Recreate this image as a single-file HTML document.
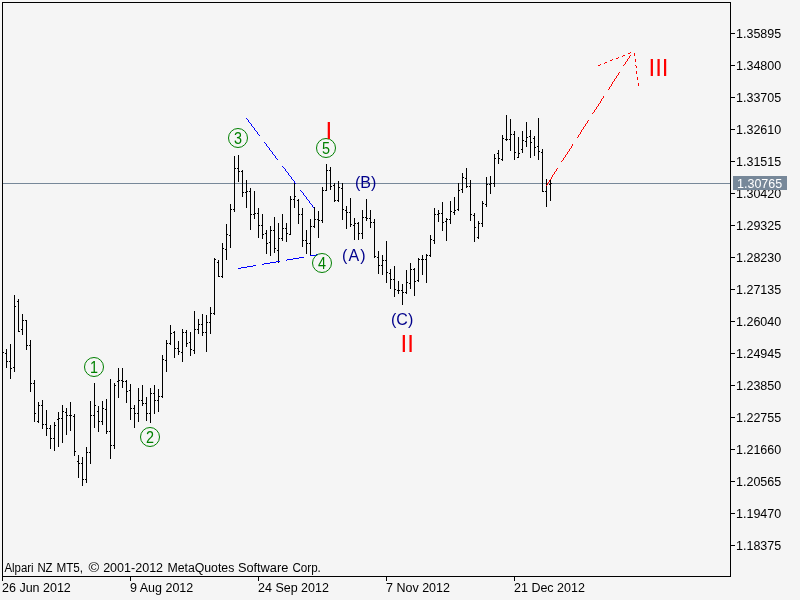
<!DOCTYPE html>
<html><head><meta charset="utf-8"><title>Chart</title>
<style>
html,body{margin:0;padding:0;background:#f5f5f5;}
body{width:800px;height:600px;overflow:hidden;}
svg{display:block;font-family:"Liberation Sans",sans-serif;}
.ax{font-size:12.5px;fill:#000;}
.w{font-size:16px;fill:#00008b;}
.r{font-size:24px;fill:#ff0000;}
.g{font-size:16px;fill:#008000;text-anchor:middle;}
</style></head><body>
<svg width="800" height="600" viewBox="0 0 800 600">
<rect x="0" y="0" width="800" height="600" fill="#f5f5f5"/>

<g shape-rendering="crispEdges" fill="#000">
<rect x="2" y="2" width="729" height="1"/>
<rect x="2" y="2" width="1" height="579"/>
<rect x="730" y="2" width="1" height="575"/>
<rect x="2" y="576" width="729" height="1"/>
<rect x="731" y="33" width="4" height="1"/>
<rect x="731" y="65" width="4" height="1"/>
<rect x="731" y="97" width="4" height="1"/>
<rect x="731" y="129" width="4" height="1"/>
<rect x="731" y="161" width="4" height="1"/>
<rect x="731" y="193" width="4" height="1"/>
<rect x="731" y="225" width="4" height="1"/>
<rect x="731" y="257" width="4" height="1"/>
<rect x="731" y="289" width="4" height="1"/>
<rect x="731" y="321" width="4" height="1"/>
<rect x="731" y="353" width="4" height="1"/>
<rect x="731" y="385" width="4" height="1"/>
<rect x="731" y="417" width="4" height="1"/>
<rect x="731" y="449" width="4" height="1"/>
<rect x="731" y="481" width="4" height="1"/>
<rect x="731" y="513" width="4" height="1"/>
<rect x="731" y="545" width="4" height="1"/>
<rect x="130" y="577" width="1" height="4"/>
<rect x="258" y="577" width="1" height="4"/>
<rect x="386" y="577" width="1" height="4"/>
<rect x="514" y="577" width="1" height="4"/>
</g>
<rect x="3" y="183" width="727" height="1" fill="#778899" shape-rendering="crispEdges"/>
<path d="M6 349h1v19h-1zM5 353h1v1h-1zM7 361h1v1h-1zM10 344h1v35h-1zM9 361h1v1h-1zM11 368h1v1h-1zM14 295h1v77h-1zM13 367h1v1h-1zM15 306h1v1h-1zM18 299h1v33h-1zM17 301h1v1h-1zM19 331h1v1h-1zM22 314h1v21h-1zM21 329h1v1h-1zM23 320h1v1h-1zM26 320h1v30h-1zM25 320h1v1h-1zM27 345h1v1h-1zM30 340h1v52h-1zM29 345h1v1h-1zM31 383h1v1h-1zM34 380h1v42h-1zM33 383h1v1h-1zM35 413h1v1h-1zM38 402h1v21h-1zM37 421h1v1h-1zM39 405h1v1h-1zM42 400h1v29h-1zM41 405h1v1h-1zM43 424h1v1h-1zM46 410h1v26h-1zM45 424h1v1h-1zM47 428h1v1h-1zM50 425h1v24h-1zM49 428h1v1h-1zM51 438h1v1h-1zM54 422h1v29h-1zM53 438h1v1h-1zM55 425h1v1h-1zM58 412h1v35h-1zM57 419h1v1h-1zM59 418h1v1h-1zM62 405h1v38h-1zM61 418h1v1h-1zM63 411h1v1h-1zM66 408h1v27h-1zM65 412h1v1h-1zM67 415h1v1h-1zM70 402h1v29h-1zM69 415h1v1h-1zM71 415h1v1h-1zM74 414h1v42h-1zM73 416h1v1h-1zM75 451h1v1h-1zM78 455h1v23h-1zM77 461h1v1h-1zM79 463h1v1h-1zM82 457h1v29h-1zM81 463h1v1h-1zM83 479h1v1h-1zM86 447h1v36h-1zM85 479h1v1h-1zM87 452h1v1h-1zM90 401h1v63h-1zM89 452h1v1h-1zM91 415h1v1h-1zM94 383h1v45h-1zM93 415h1v1h-1zM95 405h1v1h-1zM98 406h1v26h-1zM97 411h1v1h-1zM99 421h1v1h-1zM102 401h1v24h-1zM101 421h1v1h-1zM103 408h1v1h-1zM106 399h1v35h-1zM105 409h1v1h-1zM107 431h1v1h-1zM110 379h1v80h-1zM109 431h1v1h-1zM111 445h1v1h-1zM114 383h1v66h-1zM113 445h1v1h-1zM115 385h1v1h-1zM118 368h1v30h-1zM117 381h1v1h-1zM119 380h1v1h-1zM122 368h1v20h-1zM121 380h1v1h-1zM123 381h1v1h-1zM126 380h1v23h-1zM125 381h1v1h-1zM127 391h1v1h-1zM130 384h1v36h-1zM129 390h1v1h-1zM131 408h1v1h-1zM134 405h1v23h-1zM133 408h1v1h-1zM135 413h1v1h-1zM138 388h1v34h-1zM137 413h1v1h-1zM139 400h1v1h-1zM142 385h1v21h-1zM141 400h1v1h-1zM143 403h1v1h-1zM146 397h1v24h-1zM145 403h1v1h-1zM147 413h1v1h-1zM150 388h1v35h-1zM149 413h1v1h-1zM151 393h1v1h-1zM154 385h1v29h-1zM153 393h1v1h-1zM155 400h1v1h-1zM158 389h1v23h-1zM157 400h1v1h-1zM159 396h1v1h-1zM162 355h1v43h-1zM161 396h1v1h-1zM163 359h1v1h-1zM166 340h1v32h-1zM165 360h1v1h-1zM167 343h1v1h-1zM170 325h1v20h-1zM169 343h1v1h-1zM171 333h1v1h-1zM174 331h1v27h-1zM173 332h1v1h-1zM175 348h1v1h-1zM178 341h1v14h-1zM177 348h1v1h-1zM179 351h1v1h-1zM182 329h1v33h-1zM181 352h1v1h-1zM183 332h1v1h-1zM186 330h1v17h-1zM185 332h1v1h-1zM187 343h1v1h-1zM190 332h1v24h-1zM189 342h1v1h-1zM191 349h1v1h-1zM194 311h1v43h-1zM193 350h1v1h-1zM195 329h1v1h-1zM198 319h1v15h-1zM197 329h1v1h-1zM199 324h1v1h-1zM202 314h1v22h-1zM201 324h1v1h-1zM203 332h1v1h-1zM206 315h1v37h-1zM205 332h1v1h-1zM207 322h1v1h-1zM210 307h1v27h-1zM209 322h1v1h-1zM211 313h1v1h-1zM214 258h1v57h-1zM213 313h1v1h-1zM215 259h1v1h-1zM218 260h1v17h-1zM217 262h1v1h-1zM219 276h1v1h-1zM222 243h1v35h-1zM221 276h1v1h-1zM223 248h1v1h-1zM226 224h1v36h-1zM225 249h1v1h-1zM227 234h1v1h-1zM230 204h1v44h-1zM229 235h1v1h-1zM231 209h1v1h-1zM234 156h1v56h-1zM233 209h1v1h-1zM235 168h1v1h-1zM238 155h1v27h-1zM237 168h1v1h-1zM239 171h1v1h-1zM242 170h1v27h-1zM241 171h1v1h-1zM243 192h1v1h-1zM246 180h1v28h-1zM245 192h1v1h-1zM247 191h1v1h-1zM250 188h1v42h-1zM249 191h1v1h-1zM251 214h1v1h-1zM254 191h1v28h-1zM253 214h1v1h-1zM255 213h1v1h-1zM258 208h1v30h-1zM257 213h1v1h-1zM259 225h1v1h-1zM262 214h1v25h-1zM261 225h1v1h-1zM263 234h1v1h-1zM266 230h1v24h-1zM265 233h1v1h-1zM267 243h1v1h-1zM270 226h1v30h-1zM269 242h1v1h-1zM271 230h1v1h-1zM274 217h1v36h-1zM273 230h1v1h-1zM275 248h1v1h-1zM278 223h1v40h-1zM277 250h1v1h-1zM279 238h1v1h-1zM282 214h1v27h-1zM281 238h1v1h-1zM283 228h1v1h-1zM286 223h1v19h-1zM285 228h1v1h-1zM287 233h1v1h-1zM290 196h1v39h-1zM289 234h1v1h-1zM291 199h1v1h-1zM294 183h1v25h-1zM293 199h1v1h-1zM295 196h1v1h-1zM298 199h1v25h-1zM297 200h1v1h-1zM299 214h1v1h-1zM302 208h1v39h-1zM301 214h1v1h-1zM303 240h1v1h-1zM306 230h1v24h-1zM305 240h1v1h-1zM307 243h1v1h-1zM310 219h1v37h-1zM309 243h1v1h-1zM311 226h1v1h-1zM314 207h1v21h-1zM313 226h1v1h-1zM315 219h1v1h-1zM318 211h1v27h-1zM317 219h1v1h-1zM319 220h1v1h-1zM322 187h1v36h-1zM321 220h1v1h-1zM323 190h1v1h-1zM326 164h1v27h-1zM325 190h1v1h-1zM327 170h1v1h-1zM330 167h1v23h-1zM329 170h1v1h-1zM331 186h1v1h-1zM334 183h1v19h-1zM333 185h1v1h-1zM335 200h1v1h-1zM338 181h1v21h-1zM337 200h1v1h-1zM339 187h1v1h-1zM342 183h1v37h-1zM341 188h1v1h-1zM343 209h1v1h-1zM346 206h1v23h-1zM345 210h1v1h-1zM347 212h1v1h-1zM350 198h1v29h-1zM349 212h1v1h-1zM351 224h1v1h-1zM354 218h1v22h-1zM353 225h1v1h-1zM355 223h1v1h-1zM358 222h1v18h-1zM357 223h1v1h-1zM359 233h1v1h-1zM362 210h1v29h-1zM361 233h1v1h-1zM363 217h1v1h-1zM366 199h1v22h-1zM365 217h1v1h-1zM367 218h1v1h-1zM370 210h1v18h-1zM369 218h1v1h-1zM371 222h1v1h-1zM374 219h1v39h-1zM373 222h1v1h-1zM375 256h1v1h-1zM378 251h1v23h-1zM377 257h1v1h-1zM379 265h1v1h-1zM382 255h1v20h-1zM381 265h1v1h-1zM383 260h1v1h-1zM386 241h1v42h-1zM385 260h1v1h-1zM387 272h1v1h-1zM390 269h1v20h-1zM389 273h1v1h-1zM391 279h1v1h-1zM394 266h1v31h-1zM393 279h1v1h-1zM395 289h1v1h-1zM398 281h1v13h-1zM397 290h1v1h-1zM399 290h1v1h-1zM402 284h1v21h-1zM401 290h1v1h-1zM403 292h1v1h-1zM406 270h1v24h-1zM405 292h1v1h-1zM407 282h1v1h-1zM410 263h1v26h-1zM409 283h1v1h-1zM411 269h1v1h-1zM414 268h1v28h-1zM413 269h1v1h-1zM415 281h1v1h-1zM418 258h1v24h-1zM417 280h1v1h-1zM419 259h1v1h-1zM422 255h1v20h-1zM421 259h1v1h-1zM423 259h1v1h-1zM426 254h1v29h-1zM425 259h1v1h-1zM427 255h1v1h-1zM430 235h1v22h-1zM429 255h1v1h-1zM431 239h1v1h-1zM434 208h1v36h-1zM433 240h1v1h-1zM435 214h1v1h-1zM438 210h1v12h-1zM437 214h1v1h-1zM439 213h1v1h-1zM442 202h1v29h-1zM441 213h1v1h-1zM443 222h1v1h-1zM446 218h1v23h-1zM445 221h1v1h-1zM447 219h1v1h-1zM450 201h1v23h-1zM449 219h1v1h-1zM451 211h1v1h-1zM454 197h1v18h-1zM453 212h1v1h-1zM455 210h1v1h-1zM458 183h1v28h-1zM457 209h1v1h-1zM459 190h1v1h-1zM462 173h1v20h-1zM461 189h1v1h-1zM463 177h1v1h-1zM466 168h1v20h-1zM465 178h1v1h-1zM467 186h1v1h-1zM470 180h1v41h-1zM469 186h1v1h-1zM471 214h1v1h-1zM474 213h1v29h-1zM473 215h1v1h-1zM475 227h1v1h-1zM478 221h1v18h-1zM477 237h1v1h-1zM479 223h1v1h-1zM482 201h1v26h-1zM481 223h1v1h-1zM483 203h1v1h-1zM486 177h1v30h-1zM485 204h1v1h-1zM487 184h1v1h-1zM490 176h1v18h-1zM489 184h1v1h-1zM491 183h1v1h-1zM494 154h1v33h-1zM493 183h1v1h-1zM495 158h1v1h-1zM498 150h1v14h-1zM497 153h1v1h-1zM499 158h1v1h-1zM502 135h1v26h-1zM501 159h1v1h-1zM503 138h1v1h-1zM506 115h1v26h-1zM505 139h1v1h-1zM507 139h1v1h-1zM510 119h1v32h-1zM509 139h1v1h-1zM511 134h1v1h-1zM514 131h1v29h-1zM513 134h1v1h-1zM515 152h1v1h-1zM518 137h1v21h-1zM517 157h1v1h-1zM519 153h1v1h-1zM522 131h1v22h-1zM521 149h1v1h-1zM523 140h1v1h-1zM526 122h1v25h-1zM525 141h1v1h-1zM527 137h1v1h-1zM530 130h1v28h-1zM529 136h1v1h-1zM531 142h1v1h-1zM534 136h1v20h-1zM533 138h1v1h-1zM535 147h1v1h-1zM538 118h1v42h-1zM537 146h1v1h-1zM539 151h1v1h-1zM542 149h1v43h-1zM541 152h1v1h-1zM543 191h1v1h-1zM546 179h1v28h-1zM545 191h1v1h-1zM547 184h1v1h-1zM550 180h1v21h-1zM549 184h1v1h-1zM551 183h1v1h-1zM3 352h1v1h-1z" fill="#000" shape-rendering="crispEdges"/>
<text class="ax" x="736" y="38">1.35895</text>
<text class="ax" x="736" y="70">1.34800</text>
<text class="ax" x="736" y="102">1.33705</text>
<text class="ax" x="736" y="134">1.32610</text>
<text class="ax" x="736" y="166">1.31515</text>
<text class="ax" x="736" y="198">1.30420</text>
<text class="ax" x="736" y="230">1.29325</text>
<text class="ax" x="736" y="262">1.28230</text>
<text class="ax" x="736" y="294">1.27135</text>
<text class="ax" x="736" y="326">1.26040</text>
<text class="ax" x="736" y="358">1.24945</text>
<text class="ax" x="736" y="390">1.23850</text>
<text class="ax" x="736" y="422">1.22755</text>
<text class="ax" x="736" y="454">1.21660</text>
<text class="ax" x="736" y="486">1.20565</text>
<text class="ax" x="736" y="518">1.19470</text>
<text class="ax" x="736" y="550">1.18375</text>
<rect x="733" y="176" width="54" height="14" fill="#778899" shape-rendering="crispEdges"/>
<text class="ax" x="737" y="188" style="fill:#fff">1.30765</text>
<text class="ax" x="2" y="592">26 Jun 2012</text>
<text class="ax" x="130" y="592">9 Aug 2012</text>
<text class="ax" x="258" y="592">24 Sep 2012</text>
<text class="ax" x="386" y="592">7 Nov 2012</text>
<text class="ax" x="514" y="592">21 Dec 2012</text>
<text class="ax" y="572"><tspan x="4.4" textLength="29.20" lengthAdjust="spacingAndGlyphs">Alpari</tspan> <tspan x="37.4" textLength="15.20" lengthAdjust="spacingAndGlyphs">NZ</tspan> <tspan x="56.4" textLength="26.70" lengthAdjust="spacingAndGlyphs">MT5,</tspan> <tspan x="88.4" textLength="10.70" lengthAdjust="spacingAndGlyphs">©</tspan> <tspan x="103.15" textLength="59.95" lengthAdjust="spacingAndGlyphs">2001-2012</tspan> <tspan x="167.4" textLength="66.95" lengthAdjust="spacingAndGlyphs">MetaQuotes</tspan> <tspan x="237.9" textLength="50.45" lengthAdjust="spacingAndGlyphs">Software</tspan> <tspan x="292.4" textLength="28.45" lengthAdjust="spacingAndGlyphs">Corp.</tspan> </text>
<path d="M246 118h1v1h-1zM247 119h1v1h-1zM248 120h1v1h-1zM248 121h1v1h-1zM249 122h1v1h-1zM250 123h1v1h-1zM251 124h1v1h-1zM251 125h1v1h-1zM252 126h1v1h-1zM253 127h1v1h-1zM254 128h1v1h-1zM254 129h1v1h-1zM255 130h1v1h-1zM256 131h1v1h-1zM257 132h1v1h-1zM257 133h1v1h-1zM258 134h1v1h-1zM259 135h1v1h-1zM264 142h1v1h-1zM265 143h1v1h-1zM266 144h1v1h-1zM266 145h1v1h-1zM267 146h1v1h-1zM268 147h1v1h-1zM269 148h1v1h-1zM269 149h1v1h-1zM270 150h1v1h-1zM271 151h1v1h-1zM272 152h1v1h-1zM272 153h1v1h-1zM273 154h1v1h-1zM274 155h1v1h-1zM275 156h1v1h-1zM275 157h1v1h-1zM276 158h1v1h-1zM277 159h1v1h-1zM282 166h1v1h-1zM283 167h1v1h-1zM284 168h1v1h-1zM285 169h1v1h-1zM285 170h1v1h-1zM286 171h1v1h-1zM287 172h1v1h-1zM288 173h1v1h-1zM288 174h1v1h-1zM289 175h1v1h-1zM290 176h1v1h-1zM291 177h1v1h-1zM291 178h1v1h-1zM292 179h1v1h-1zM293 180h1v1h-1zM294 181h1v1h-1zM294 182h1v1h-1zM295 183h1v1h-1zM300 190h1v1h-1zM301 191h1v1h-1zM302 192h1v1h-1zM303 193h1v1h-1zM303 194h1v1h-1zM304 195h1v1h-1zM305 196h1v1h-1zM306 197h1v1h-1zM306 198h1v1h-1zM307 199h1v1h-1zM308 200h1v1h-1zM309 201h1v1h-1zM309 202h1v1h-1zM310 203h1v1h-1zM311 204h1v1h-1zM312 205h1v1h-1zM312 206h1v1h-1zM313 207h1v1h-1zM316 254h2v1h-2zM310 255h6v1h-6zM299 257h5v1h-5zM293 258h6v1h-6zM287 259h6v1h-6zM286 260h1v1h-1zM276 261h4v1h-4zM270 262h6v1h-6zM264 263h6v1h-6zM262 264h2v1h-2zM253 265h3v1h-3zM247 266h6v1h-6zM241 267h6v1h-6zM238 268h3v1h-3z" fill="#0000ff" shape-rendering="crispEdges"/>
<path d="M630 52h1v1h-1zM628 53h2v1h-2zM634 53h1v1h-1zM634 54h1v1h-1zM623 55h2v1h-2zM630 55h1v1h-1zM634 55h1v1h-1zM622 56h1v1h-1zM629 56h1v1h-1zM618 57h1v1h-1zM629 57h1v1h-1zM616 58h2v1h-2zM628 58h1v1h-1zM612 59h1v1h-1zM627 59h1v1h-1zM635 59h1v1h-1zM610 60h2v1h-2zM627 60h1v1h-1zM635 60h1v1h-1zM626 61h1v1h-1zM635 61h1v1h-1zM605 62h2v1h-2zM625 62h1v1h-1zM604 63h1v1h-1zM625 63h1v1h-1zM600 64h1v1h-1zM624 64h1v1h-1zM598 65h2v1h-2zM623 65h1v1h-1zM635 65h1v1h-1zM636 66h1v1h-1zM636 67h1v1h-1zM636 71h1v1h-1zM619 72h1v1h-1zM636 72h1v1h-1zM618 73h1v1h-1zM636 73h1v1h-1zM618 74h1v1h-1zM617 75h1v1h-1zM616 76h1v1h-1zM616 77h1v1h-1zM637 77h1v1h-1zM615 78h1v1h-1zM637 78h1v1h-1zM614 79h1v1h-1zM637 79h1v1h-1zM614 80h1v1h-1zM613 81h1v1h-1zM612 82h1v1h-1zM612 83h1v1h-1zM638 83h1v1h-1zM611 84h1v1h-1zM638 84h1v1h-1zM611 85h1v1h-1zM638 85h1v1h-1zM610 86h1v1h-1zM609 87h1v1h-1zM609 88h1v1h-1zM608 89h1v1h-1zM603 96h1v1h-1zM603 97h1v1h-1zM602 98h1v1h-1zM601 99h1v1h-1zM601 100h1v1h-1zM600 101h1v1h-1zM600 102h1v1h-1zM599 103h1v1h-1zM598 104h1v1h-1zM598 105h1v1h-1zM597 106h1v1h-1zM596 107h1v1h-1zM596 108h1v1h-1zM595 109h1v1h-1zM594 110h1v1h-1zM594 111h1v1h-1zM593 112h1v1h-1zM592 113h1v1h-1zM588 120h1v1h-1zM587 121h1v1h-1zM587 122h1v1h-1zM586 123h1v1h-1zM585 124h1v1h-1zM585 125h1v1h-1zM584 126h1v1h-1zM583 127h1v1h-1zM583 128h1v1h-1zM582 129h1v1h-1zM581 130h1v1h-1zM581 131h1v1h-1zM580 132h1v1h-1zM580 133h1v1h-1zM579 134h1v1h-1zM578 135h1v1h-1zM578 136h1v1h-1zM577 137h1v1h-1zM572 144h1v1h-1zM572 145h1v1h-1zM571 146h1v1h-1zM571 147h1v1h-1zM570 148h1v1h-1zM569 149h1v1h-1zM569 150h1v1h-1zM568 151h1v1h-1zM567 152h1v1h-1zM567 153h1v1h-1zM566 154h1v1h-1zM565 155h1v1h-1zM565 156h1v1h-1zM564 157h1v1h-1zM563 158h1v1h-1zM563 159h1v1h-1zM562 160h1v1h-1zM561 161h1v1h-1zM557 168h1v1h-1zM556 169h1v1h-1zM556 170h1v1h-1zM555 171h1v1h-1zM554 172h1v1h-1zM554 173h1v1h-1zM553 174h1v1h-1zM552 175h1v1h-1zM552 176h1v1h-1zM551 177h1v1h-1zM551 178h1v1h-1zM550 179h1v1h-1zM549 180h1v1h-1zM549 181h1v1h-1zM548 182h1v1h-1zM547 183h1v1h-1zM547 184h1v1h-1zM546 185h1v1h-1z" fill="#ff0000" shape-rendering="crispEdges"/>
<circle cx="94" cy="367" r="9.5" fill="none" stroke="#008000" stroke-width="1"/>
<text class="g" x="94" y="373.3" textLength="8" lengthAdjust="spacingAndGlyphs">1</text>
<circle cx="150" cy="437" r="9.5" fill="none" stroke="#008000" stroke-width="1"/>
<text class="g" x="150" y="443.3" textLength="8" lengthAdjust="spacingAndGlyphs">2</text>
<circle cx="238" cy="138" r="9.5" fill="none" stroke="#008000" stroke-width="1"/>
<text class="g" x="238" y="144.3" textLength="8" lengthAdjust="spacingAndGlyphs">3</text>
<circle cx="322" cy="263" r="9.5" fill="none" stroke="#008000" stroke-width="1"/>
<text class="g" x="322" y="269.3" textLength="8" lengthAdjust="spacingAndGlyphs">4</text>
<circle cx="326" cy="148" r="9.5" fill="none" stroke="#008000" stroke-width="1"/>
<text class="g" x="326" y="154.3" textLength="8" lengthAdjust="spacingAndGlyphs">5</text>
<text class="w" x="342" y="260.5" textLength="23.6" lengthAdjust="spacing">(A)</text>
<text class="w" x="355" y="188">(B)</text>
<text class="w" x="391" y="325">(C)</text>
<text class="r" x="325.5" y="139">I</text>
<text class="r" x="400.5" y="352">II</text>
<text class="r" x="648.5" y="76">III</text>
</svg></body></html>
